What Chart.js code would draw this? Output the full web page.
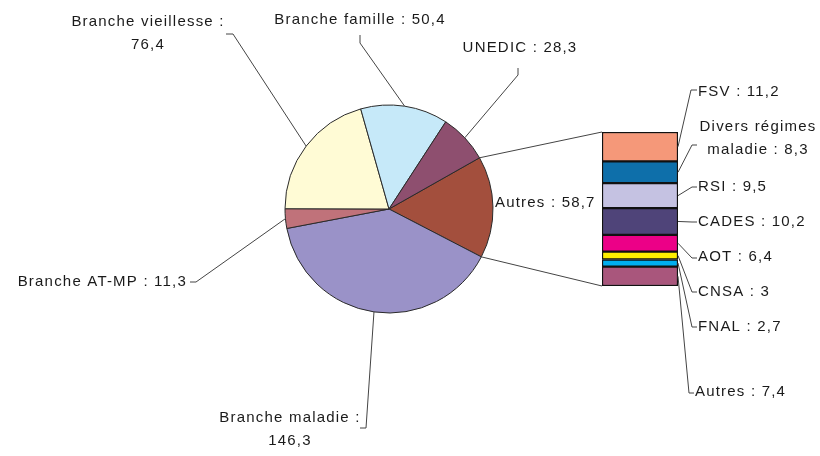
<!DOCTYPE html>
<html>
<head>
<meta charset="utf-8">
<script src="https://cdn.jsdelivr.net/npm/chart.js@4.4.1/dist/chart.umd.min.js"></script>
<style>
  html, body { margin: 0; padding: 0; background: #fff; }
  #wrap { position: relative; width: 820px; height: 456px; }
  canvas { position: absolute; left: 0; top: 0; }
</style>
</head>
<body>
<div id="wrap">
  <canvas id="pie" width="820" height="456"></canvas>
  <canvas id="bar" width="820" height="456"></canvas>
</div>
<script>
// Pie slices, clockwise starting with "Autres"
const pieLabels = ['Autres', 'Branche maladie', 'Branche AT-MP', 'Branche vieillesse', 'Branche famille', 'UNEDIC'];
const pieValues = [58.7, 146.3, 11.3, 76.4, 50.4, 28.3];
const pieColors = ['#a34f3d', '#9a92c8', '#c0727a', '#fffbd5', '#c6e9f9', '#8e4f6f'];

// Breakdown of "Autres", top to bottom of the bar
const barLabels = ['FSV', 'Divers régimes maladie', 'RSI', 'CADES', 'AOT', 'CNSA', 'FNAL', 'Autres'];
const barValues = [11.2, 8.3, 9.5, 10.2, 6.4, 3, 2.7, 7.4];
const barColors = ['#f59879', '#0e6faa', '#c5c2e2', '#4f4479', '#ec0087', '#ffef00', '#00aeef', '#a9567c'];

// where each label sits, and the short tick the leader line starts from
const pieNotes = [
    { x: 495, y: 203, align: 'left' },
    { x: 290, y: 418, align: 'center', brk: 3, tick: [[360, 428], [366, 428]] },
    { x: 187, y: 282, align: 'right', tick: [[190, 282], [196, 282]] },
    { x: 148, y: 22, align: 'center', brk: 3, tick: [[226, 34], [233, 34]] },
    { x: 360, y: 20, align: 'center', tick: [[360, 35], [360, 43]] },
    { x: 520, y: 48, align: 'center', tick: [[518, 68], [518, 75]] }
];
const barNotes = [
    { x: 698, y: 92, align: 'left', tick: [[697, 90], [691, 90]] },
    { x: 758, y: 127, align: 'center', brk: 2, tick: [[697, 145], [692, 145]] },
    { x: 698, y: 187, align: 'left', tick: [[697, 187], [692, 187]] },
    { x: 698, y: 222, align: 'left', tick: [[697, 222], [692, 222]] },
    { x: 698, y: 257, align: 'left', tick: [[697, 258], [692, 258]] },
    { x: 698, y: 292, align: 'left', tick: [[697, 292], [692, 292]] },
    { x: 698, y: 327, align: 'left', tick: [[697, 327], [692, 327]] },
    { x: 695, y: 392, align: 'left', tick: [[694, 393], [689, 393]] }
];

const fmt = v => String(v).replace('.', ',');

function labelLines(name, value, brk) {
    const words = (name + ' : ' + fmt(value)).split(' ');
    if (!brk) return [words.join(' ')];
    return [words.slice(0, brk).join(' '), words.slice(brk).join(' ')];
}

function drawNote(ctx, note, lines, target) {
    if (note.tick) {
        ctx.beginPath();
        ctx.moveTo(note.tick[0][0], note.tick[0][1]);
        ctx.lineTo(note.tick[1][0], note.tick[1][1]);
        ctx.lineTo(target.x, target.y);
        ctx.stroke();
    }
    ctx.textAlign = note.align;
    lines.forEach((t, i) => ctx.fillText(t, note.x, note.y + i * 23));
}

const pieChart = new Chart(document.getElementById('pie'), {
    type: 'pie',
    data: {
        labels: pieLabels,
        datasets: [{
            data: pieValues,
            backgroundColor: pieColors,
            borderColor: '#2a2a2a',
            borderWidth: 1
        }]
    },
    options: {
        responsive: false,
        animation: false,
        events: [],
        rotation: 60.5,
        radius: 104,
        layout: { padding: { left: 180, right: 222, top: 60, bottom: 98 } },
        plugins: { legend: { display: false }, tooltip: { enabled: false } }
    }
});

const notesPlugin = {
    id: 'notes',
    afterDraw(chart) {
        const ctx = chart.ctx;
        const arcs = pieChart.getDatasetMeta(0).data;
        const bars = barLabels.map((l, i) => chart.getDatasetMeta(i).data[0]);
        ctx.save();
        ctx.strokeStyle = '#444';
        ctx.lineWidth = 1;
        ctx.fillStyle = '#1a1a1a';
        ctx.font = '15px "Liberation Sans", Arial, sans-serif';
        ctx.letterSpacing = '1.2px';
        ctx.textBaseline = 'middle';

        // lines joining the "Autres" slice to the bar
        const a = arcs[0];
        const first = bars[0], last = bars[bars.length - 1];
        const left = first.x - first.width / 2;
        const top = Math.min(first.y, first.base);
        const bottom = Math.max(last.y, last.base);
        ctx.beginPath();
        ctx.moveTo(a.x + a.outerRadius * Math.cos(a.startAngle), a.y + a.outerRadius * Math.sin(a.startAngle));
        ctx.lineTo(left, top);
        ctx.moveTo(a.x + a.outerRadius * Math.cos(a.endAngle), a.y + a.outerRadius * Math.sin(a.endAngle));
        ctx.lineTo(left, bottom);
        ctx.stroke();

        pieNotes.forEach((n, i) => {
            const arc = arcs[i];
            const mid = (arc.startAngle + arc.endAngle) / 2;
            const target = { x: arc.x + arc.outerRadius * Math.cos(mid), y: arc.y + arc.outerRadius * Math.sin(mid) };
            drawNote(ctx, n, labelLines(pieLabels[i], pieValues[i], n.brk), target);
        });

        barNotes.forEach((n, i) => {
            const b = bars[i];
            const target = { x: b.x + b.width / 2, y: (b.y + b.base) / 2 };
            drawNote(ctx, n, labelLines(barLabels[i], barValues[i], n.brk), target);
        });
        ctx.restore();
    }
};

const total = barValues.reduce((s, v) => s + v, 0);

new Chart(document.getElementById('bar'), {
    type: 'bar',
    data: {
        labels: ['Autres'],
        datasets: barLabels.map((l, i) => ({
            label: l,
            data: [barValues[i]],
            backgroundColor: barColors[i],
            borderColor: '#111',
            borderWidth: 1.5,
            borderSkipped: false,
            barPercentage: 1,
            categoryPercentage: 1
        }))
    },
    options: {
        responsive: false,
        animation: false,
        events: [],
        layout: { padding: { left: 602, right: 142, top: 132, bottom: 170 } },
        scales: {
            x: { stacked: true, display: false },
            y: { stacked: true, display: false, reverse: true, min: 0, max: total }
        },
        plugins: { legend: { display: false }, tooltip: { enabled: false } }
    },
    plugins: [notesPlugin]
});
</script>
</body>
</html>
